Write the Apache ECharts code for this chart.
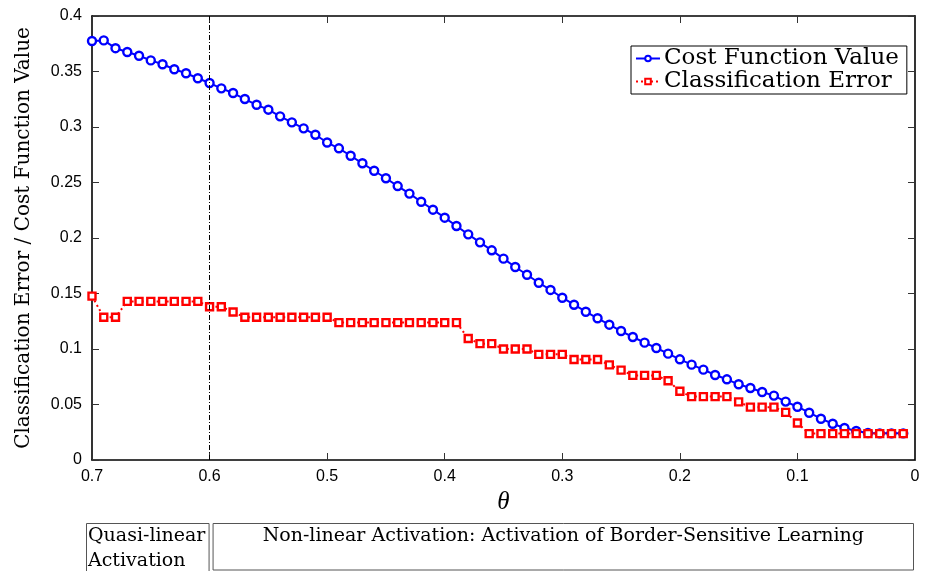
<!DOCTYPE html>
<html>
<head>
<meta charset="utf-8">
<script src="https://cdn.jsdelivr.net/npm/echarts@6/dist/echarts.min.js"></script>
<style>
  html, body { margin: 0; padding: 0; background: #fff; }
  #chart { width: 926px; height: 571px; }
</style>
</head>
<body>
<div id="chart"></div>
<script>
// Threshold theta, swept from 0.70 down to 0.01
const theta = [0.70, 0.69, 0.68, 0.67, 0.66, 0.65, 0.64, 0.63, 0.62, 0.61,
               0.60, 0.59, 0.58, 0.57, 0.56, 0.55, 0.54, 0.53, 0.52, 0.51,
               0.50, 0.49, 0.48, 0.47, 0.46, 0.45, 0.44, 0.43, 0.42, 0.41,
               0.40, 0.39, 0.38, 0.37, 0.36, 0.35, 0.34, 0.33, 0.32, 0.31,
               0.30, 0.29, 0.28, 0.27, 0.26, 0.25, 0.24, 0.23, 0.22, 0.21,
               0.20, 0.19, 0.18, 0.17, 0.16, 0.15, 0.14, 0.13, 0.12, 0.11,
               0.10, 0.09, 0.08, 0.07, 0.06, 0.05, 0.04, 0.03, 0.02, 0.01];

// Cost function value at each theta
const costValue = [0.3775, 0.3780, 0.3710, 0.3676, 0.3642, 0.3600, 0.3565, 0.3520, 0.3484, 0.3439,
                   0.3396, 0.3348, 0.3306, 0.3252, 0.3200, 0.3156, 0.3096, 0.3042, 0.2988, 0.2930,
                   0.2860, 0.2808, 0.2741, 0.2673, 0.2606, 0.2538, 0.2468, 0.2400, 0.2327, 0.2255,
                   0.2183, 0.2108, 0.2033, 0.1961, 0.1889, 0.1814, 0.1739, 0.1669, 0.1597, 0.1532,
                   0.1462, 0.1399, 0.1336, 0.1277, 0.1219, 0.1162, 0.1108, 0.1057, 0.1009, 0.0958,
                   0.0907, 0.0859, 0.0814, 0.0766, 0.0727, 0.0682, 0.0649, 0.0613, 0.0580, 0.0526,
                   0.0480, 0.0426, 0.0372, 0.0327, 0.0288, 0.0261, 0.0243, 0.0240, 0.0240, 0.0240];

// Classification error at each theta
const classError = [0.1476, 0.1286, 0.1286, 0.1429, 0.1429, 0.1429, 0.1429, 0.1429, 0.1429, 0.1429,
                    0.1381, 0.1381, 0.1333, 0.1286, 0.1286, 0.1286, 0.1286, 0.1286, 0.1286, 0.1286,
                    0.1286, 0.1238, 0.1238, 0.1238, 0.1238, 0.1238, 0.1238, 0.1238, 0.1238, 0.1238,
                    0.1238, 0.1238, 0.1095, 0.1048, 0.1048, 0.1000, 0.1000, 0.1000, 0.0952, 0.0952,
                    0.0952, 0.0905, 0.0905, 0.0905, 0.0857, 0.0810, 0.0762, 0.0762, 0.0762, 0.0714,
                    0.0619, 0.0571, 0.0571, 0.0571, 0.0571, 0.0524, 0.0476, 0.0476, 0.0476, 0.0429,
                    0.0333, 0.0238, 0.0238, 0.0238, 0.0238, 0.0238, 0.0238, 0.0238, 0.0238, 0.0238];

// Boundary between the two activation regimes
const regimeSplit = 0.6;

const seriesNames = ['Cost Function Value', 'Classification Error'];
const regimeLabels = ['Quasi-linear\nActivation', 'Non-linear Activation: Activation of Border-Sensitive Learning'];

const serif = '"DejaVu Serif", "Liberation Serif", serif';
const sans = '"Liberation Sans", Arial, sans-serif';

const chart = echarts.init(document.getElementById('chart'), null, { renderer: 'canvas' });

const baseX = {
  type: 'value', min: 0, max: 0.7, interval: 0.1, inverse: true,
  axisLine: { show: true, onZero: false, lineStyle: { color: '#000', width: 1.6 } },
  axisTick: { show: true, inside: true, length: 7, lineStyle: { color: '#333' } },
  splitLine: { show: false }
};
const baseY = {
  type: 'value', min: 0, max: 0.4, interval: 0.05,
  axisLine: { show: true, onZero: false, lineStyle: { color: '#000', width: 1.6 } },
  axisTick: { show: true, inside: true, length: 7, lineStyle: { color: '#333' } },
  splitLine: { show: false }
};

chart.setOption({
  animation: false,
  backgroundColor: '#fff',
  grid: { left: 92, right: 11, top: 16, bottom: 111, containLabel: false },
  legend: {
    orient: 'vertical',
    left: 631, top: 46,
    backgroundColor: '#fff',
    borderColor: '#000', borderWidth: 1,
    padding: [1, 8, 1, 4],
    itemGap: 0,
    itemWidth: 24, itemHeight: 7,
    textStyle: { fontFamily: serif, fontSize: 23, lineHeight: 22, color: '#000', padding: [0, 0, 0, -1] },
    data: seriesNames
  },
  xAxis: [
    Object.assign({}, baseX, {
      position: 'bottom',
      name: 'θ', nameLocation: 'middle', nameGap: 24,
      nameTextStyle: { fontFamily: '"Liberation Serif", serif', fontStyle: 'italic', fontSize: 25, color: '#000' },
      axisLabel: { fontFamily: sans, fontSize: 16, color: '#000', margin: 9,
                   formatter: v => (Math.round(v * 10) / 10).toString() }
    }),
    Object.assign({}, baseX, { position: 'top', axisLabel: { show: false } })
  ],
  yAxis: [
    Object.assign({}, baseY, {
      position: 'left',
      name: 'Classification Error / Cost Function Value', nameLocation: 'middle', nameGap: 58,
      nameRotate: 90,
      nameTextStyle: { fontFamily: serif, fontSize: 20, color: '#000' },
      axisLabel: { fontFamily: sans, fontSize: 16, color: '#000', margin: 10,
                   formatter: v => (Math.round(v * 100) / 100).toString() }
    }),
    Object.assign({}, baseY, { position: 'right', axisLabel: { show: false } })
  ],
  series: [
    {
      name: seriesNames[0], type: 'line',
      data: theta.map((t, i) => [t, costValue[i]]),
      symbol: 'circle', symbolSize: 8,
      lineStyle: { color: '#0000ff', width: 2 },
      itemStyle: { color: '#fff', borderColor: '#0000ff', borderWidth: 2.4 },
      z: 3,
      markLine: {
        silent: true, symbol: 'none', label: { show: false },
        lineStyle: { color: '#000', width: 1, type: [5, 2, 1, 2] },
        data: [{ xAxis: regimeSplit }]
      }
    },
    {
      name: seriesNames[1], type: 'line',
      data: theta.map((t, i) => [t, classError[i]]),
      symbol: 'rect', symbolSize: 7,
      lineStyle: { color: '#ff0000', width: 2, type: [2, 3] },
      itemStyle: { color: '#fff', borderColor: '#ff0000', borderWidth: 2.4 },
      z: 4
    }
  ]
});

// Regime boxes under the theta axis, aligned with the x scale
const xStart = chart.convertToPixel({ xAxisIndex: 0 }, 0.7);
const xSplit = chart.convertToPixel({ xAxisIndex: 0 }, regimeSplit);
const xEnd = chart.convertToPixel({ xAxisIndex: 0 }, 0);
const boxTop = 523.5;
const boxStroke = { stroke: '#555', lineWidth: 1, fill: 'none' };

chart.setOption({
  graphic: [
    { type: 'rect', shape: { x: xStart - 5.5, y: boxTop, width: xSplit - xStart + 5, height: 60 }, style: boxStroke },
    { type: 'rect', shape: { x: xSplit + 3.5, y: boxTop, width: xEnd - xSplit - 5, height: 46.5 }, style: boxStroke },
    { type: 'text', x: xStart - 4, y: boxTop,
      style: { text: regimeLabels[0], font: '19px ' + serif, fill: '#000', lineHeight: 25, verticalAlign: 'top' } },
    { type: 'text', x: (xSplit + xEnd) / 2 + 1, y: boxTop,
      style: { text: regimeLabels[1], font: '19px ' + serif, fill: '#000', align: 'center', verticalAlign: 'top', lineHeight: 25 } }
  ]
});
</script>
</body>
</html>
